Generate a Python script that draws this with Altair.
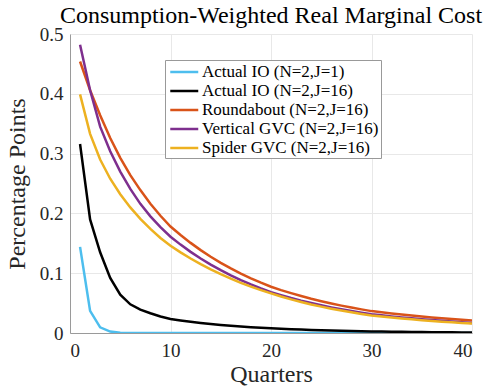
import altair as alt
import pandas as pd

quarters = list(range(1, 41))

series_names = [
    "Actual IO (N=2,J=1)",
    "Actual IO (N=2,J=16)",
    "Roundabout (N=2,J=16)",
    "Vertical GVC (N=2,J=16)",
    "Spider GVC (N=2,J=16)",
]
series_colors = ["#4DBEEE", "#000000", "#D95319", "#7E2F8E", "#EDB120"]

actual_io_j1 = [0.144, 0.037, 0.0095, 0.0024, 0.0006, 0.00015, 0.00004, 0.00001] + [0.0] * 32

actual_io_j16 = [0.316, 0.190, 0.135, 0.092, 0.064, 0.048, 0.039, 0.033, 0.0275, 0.0235,
                 0.0210, 0.0188, 0.0168, 0.0151, 0.0135, 0.0121, 0.0108, 0.0097, 0.0087, 0.0078,
                 0.0070, 0.0063, 0.0057, 0.0051, 0.0046, 0.0041, 0.0037, 0.0033, 0.0030, 0.0027,
                 0.0024, 0.0022, 0.0020, 0.0018, 0.0016, 0.0014, 0.0013, 0.0012, 0.0010, 0.0009]

roundabout = [0.454, 0.406, 0.364, 0.326, 0.293, 0.264, 0.239, 0.216, 0.196, 0.178,
              0.1638, 0.1507, 0.1386, 0.1275, 0.1173, 0.1080, 0.0993, 0.0914, 0.0841, 0.0773,
              0.0717, 0.0666, 0.0618, 0.0573, 0.0532, 0.0494, 0.0458, 0.0425, 0.0395, 0.0366,
              0.0346, 0.0327, 0.0309, 0.0292, 0.0276, 0.0261, 0.0246, 0.0233, 0.0220, 0.0208]

vertical_gvc = [0.482, 0.406, 0.345, 0.304, 0.270, 0.241, 0.216, 0.195, 0.177, 0.161,
                0.1478, 0.1357, 0.1246, 0.1143, 0.1050, 0.0963, 0.0884, 0.0812, 0.0745, 0.0684,
                0.0633, 0.0585, 0.0541, 0.0501, 0.0463, 0.0428, 0.0396, 0.0367, 0.0339, 0.0314,
                0.0295, 0.0277, 0.0261, 0.0245, 0.0230, 0.0217, 0.0204, 0.0191, 0.0180, 0.0169]

spider_gvc = [0.399, 0.333, 0.290, 0.258, 0.232, 0.210, 0.191, 0.174, 0.159, 0.146,
              0.1349, 0.1246, 0.1152, 0.1064, 0.0983, 0.0909, 0.0839, 0.0776, 0.0717, 0.0662,
              0.0610, 0.0563, 0.0519, 0.0478, 0.0441, 0.0407, 0.0375, 0.0346, 0.0319, 0.0294,
              0.0276, 0.0259, 0.0243, 0.0229, 0.0215, 0.0202, 0.0189, 0.0178, 0.0167, 0.0157]

all_series = [actual_io_j1, actual_io_j16, roundabout, vertical_gvc, spider_gvc]

rows = []
for name, vals in zip(series_names, all_series):
    for q, v in zip(quarters, vals):
        rows.append({"Quarter": q, "Value": v, "Series": name})
df = pd.DataFrame(rows)

FONT = "Liberation Serif"

chart = alt.Chart(df).mark_line(strokeWidth=2.5, clip=True).encode(
    x=alt.X("Quarter:Q",
            scale=alt.Scale(domain=[0, 40], nice=False, zero=False),
            axis=alt.Axis(title="Quarters", values=[0, 10, 20, 30, 40], format="d",
                          labelFont=FONT, titleFont=FONT,
                          labelFontSize=19, titleFontSize=24, labelPadding=8,
                          titlePadding=2, ticks=False)),
    y=alt.Y("Value:Q",
            scale=alt.Scale(domain=[0, 0.5], nice=False),
            axis=alt.Axis(title="Percentage Points", values=[0, 0.1, 0.2, 0.3, 0.4, 0.5],
                          labelExpr="datum.value == 0 ? '0' : format(datum.value, '.1f')",
                          labelFont=FONT, titleFont=FONT,
                          labelFontSize=19, titleFontSize=24, labelPadding=7,
                          titlePadding=10, ticks=False)),
    color=alt.Color("Series:N",
                    scale=alt.Scale(domain=series_names, range=series_colors),
                    sort=series_names,
                    legend=alt.Legend(title=None, orient="none", legendX=95, legendY=26,
                                      symbolType="M-0.77,0L2.43,0", symbolSize=306,
                                      symbolStrokeWidth=2.5, labelFontSize=17,
                                      labelFont=FONT, labelColor="#000000", labelLimit=400,
                                      fillColor="white", strokeColor="#999999",
                                      padding=2, rowPadding=1, labelOffset=15,
                                      cornerRadius=0)),
    order=alt.Order("Quarter:Q"),
).properties(
    width=402,
    height=299,
    title=alt.TitleParams("Consumption-Weighted Real Marginal Cost",
                          fontSize=24, font=FONT, fontWeight="normal",
                          color="#000000", anchor="middle", offset=2, dy=5),
    padding={"left": 70, "top": 34, "right": 15, "bottom": 53},
    autosize=alt.AutoSizeParams(type="none"),
).configure_axis(
    labelFont=FONT, titleFont=FONT, labelColor="#262626", titleColor="#262626",
    titleFontWeight="normal", gridColor="#e8e8e8", gridWidth=1,
    domainColor="#9a9a9a", domainWidth=1,
).configure_view(stroke=None)

chart.save("out.html", embed_options={"renderer": "svg", "actions": False})
